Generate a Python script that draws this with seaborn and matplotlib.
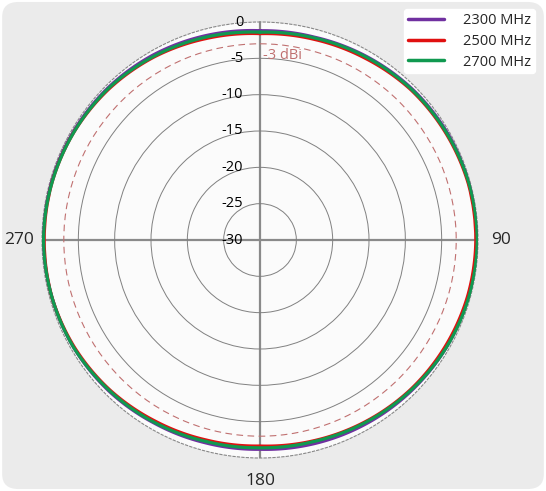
import numpy as np
import pandas as pd
import seaborn as sns
import matplotlib
matplotlib.use("Agg")
import matplotlib.pyplot as plt
from matplotlib.patches import FancyBboxPatch

# angles (deg, clockwise from top) and gain (dBi) per frequency
angles = [0, 15, 30, 45, 60, 75, 90, 105, 120, 135, 150, 165, 180,
          195, 210, 225, 240, 255, 270, 285, 300, 315, 330, 345, 360]
gain_2300 = [-1.2, -1.1, -0.8, -0.5, -0.3, -0.2, -0.2, -0.3, -0.4, -0.6, -0.8, -1.0, -1.2,
             -1.1, -0.9, -0.6, -0.4, -0.3, -0.2, -0.2, -0.3, -0.4, -0.6, -0.9, -1.2]
gain_2500 = [-1.6, -1.4, -1.1, -0.7, -0.5, -0.3, -0.3, -0.4, -0.6, -0.8, -1.1, -1.4, -1.65,
             -1.5, -1.2, -0.8, -0.5, -0.3, -0.3, -0.3, -0.4, -0.6, -0.9, -1.3, -1.6]
gain_2700 = [-1.4, -1.2, -0.9, -0.6, -0.4, -0.2, -0.1, -0.2, -0.4, -0.7, -1.0, -1.3, -1.4,
             -1.3, -1.0, -0.7, -0.4, -0.3, -0.2, -0.3, -0.4, -0.5, -0.8, -1.1, -1.4]
freqs = ["2300 MHz", "2500 MHz", "2700 MHz"]
colors = ["#7030a0", "#e01010", "#109950"]
rticks = [0, -5, -10, -15, -20, -25, -30]

df = pd.DataFrame({
    "theta": np.deg2rad(angles * 3),
    "gain": gain_2300 + gain_2500 + gain_2700,
    "freq": [f for f in freqs for _ in angles],
})

sns.set_style("white")
plt.rcParams["font.family"] = ["Open Sans", "DejaVu Sans"]

fig = plt.figure(figsize=(5.46, 4.91), dpi=100)
fig.patch.set_facecolor("white")
bg = FancyBboxPatch((0.004, 0.004), 0.992, 0.992,
                    boxstyle="round,pad=0,rounding_size=0.03",
                    transform=fig.transFigure, facecolor="#ebebeb",
                    edgecolor="none", zorder=-10)
fig.add_artist(bg)

ax = fig.add_axes([42 / 546, 33 / 491, 436 / 546, 436 / 491], projection="polar")
ax.set_zorder(1)
ax.set_facecolor("#fbfbfb")
ax.set_theta_zero_location("N")
ax.set_theta_direction(-1)

sns.lineplot(data=df, x="theta", y="gain", hue="freq", palette=colors,
             linewidth=2.3, sort=False, ax=ax, zorder=5)
ax.set_ylim(-30, 0)
ax.set_xlabel("")
ax.set_ylabel("")

# grids
ax.set_yticks([-25, -20, -15, -10, -5])
ax.set_yticklabels([])
ax.yaxis.grid(True, color="#808080", linewidth=0.7)
ax.set_xticks(np.deg2rad([0, 90, 180, 270]))
ax.set_xticklabels(["", "90", "180", "270"], fontsize=12.5)
ax.xaxis.grid(True, color="#8a8a8a", linewidth=1.6)
ax.tick_params(axis="x", pad=6)
ax.spines["polar"].set_linestyle((0, (2, 2)))
ax.spines["polar"].set_color("#888888")
ax.spines["polar"].set_linewidth(0.8)

# -3 dBi reference ring
ring = np.linspace(0, 2 * np.pi, 361)
ax.plot(ring, np.full_like(ring, -3), color="#c07070", linewidth=0.8,
        linestyle=(0, (6, 4)), zorder=3)
ax.annotate("-3 dBi", xy=(0, -3), xytext=(2, -3), textcoords="offset points",
            ha="left", va="top", color="#c07070", fontsize=10.5)

# draw pattern segments as curves in polar space
for line in ax.lines:
    line.get_path()._interpolation_steps = 30

for r in rticks:
    ax.annotate(str(r), xy=(0, r), xytext=(-12, 0), textcoords="offset points",
                ha="right", va="center", fontsize=10.5, color="black", zorder=6)

ax.get_legend().remove()
handles = [plt.Line2D([], [], color=c, linewidth=2.5) for c in colors]
leg = fig.legend(handles, freqs, loc="upper right", bbox_to_anchor=(0.993, 0.996),
                 fontsize=10.5, handlelength=2.5, handletextpad=1.3, frameon=True,
                 fancybox=True, borderpad=0.25, labelspacing=0.4)
leg.get_frame().set_facecolor("white")
leg.get_frame().set_edgecolor("white")
leg.get_frame().set_alpha(1)

fig.savefig("out.png", dpi=100)
